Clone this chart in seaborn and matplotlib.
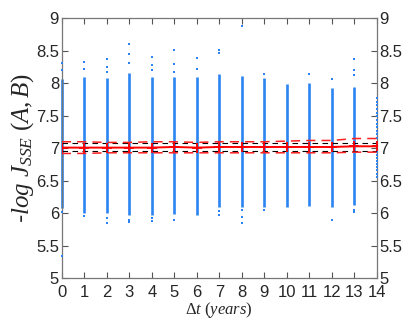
import numpy as np
import pandas as pd
import matplotlib
matplotlib.use('Agg')
import matplotlib.pyplot as plt
import seaborn as sns

#values
dt = list(range(15))
dense_x = list(range(14))
dense_lo = [6.08, 6.00, 6.00, 5.97, 5.97, 5.99, 5.97, 6.09, 6.09, 6.10, 6.10, 6.11, 6.10, 6.13]
dense_hi = [8.07, 8.10, 8.08, 8.16, 8.09, 8.10, 8.09, 8.14, 8.11, 8.08, 7.99, 8.00, 7.93, 7.95]

#scattered points outside the dense strips
out_x = [0, 0, 0, 0, 1, 1, 1, 2, 2, 2, 2, 2, 3, 3, 3, 3, 3, 4, 4, 4, 4, 4,
         5, 5, 5, 5, 6, 6, 7, 7, 7, 7, 8, 8, 8, 8, 9, 9, 11, 12, 12, 13, 13, 13, 13, 13]
out_y = [8.31, 8.2, 6.02, 5.34, 8.33, 8.22, 5.96, 8.37, 8.25, 8.17, 5.93, 5.85, 8.60, 8.45, 8.31, 5.90, 5.86,
         8.41, 8.28, 8.20, 5.93, 5.88, 8.51, 8.30, 8.18, 5.90, 8.39, 8.22, 8.51, 8.46, 6.04, 5.97,
         8.88, 6.05, 5.94, 5.85, 8.15, 6.05, 8.15, 8.06, 5.90, 8.37, 8.20, 8.13, 6.05, 6.02]

#last column is sparse
sparse_y = [7.78, 7.72, 7.66, 7.60, 7.55, 7.50, 7.44, 7.38, 7.33, 7.27, 7.22, 7.16, 7.10, 7.05,
            7.00, 6.95, 6.90, 6.85, 6.80, 6.76, 6.71, 6.66, 6.60, 6.55]

mean_v = [7.01, 7.01, 7.01, 7.01, 7.01, 7.02, 7.01, 7.02, 7.02, 7.02, 7.02, 7.02, 7.02, 7.03, 7.03]
upper_v = [7.10, 7.10, 7.09, 7.09, 7.10, 7.10, 7.09, 7.10, 7.10, 7.10, 7.11, 7.12, 7.12, 7.15, 7.15]
lower_v = [6.92, 6.92, 6.93, 6.93, 6.93, 6.93, 6.93, 6.93, 6.93, 6.93, 6.93, 6.93, 6.93, 6.94, 6.94]
ref_hi = 7.08
ref_lo = 6.96

yticks = [5, 5.5, 6, 6.5, 7, 7.5, 8, 8.5, 9]
ytick_labels = ['5', '5.5', '6', '6.5', '7', '7.5', '8', '8.5', '9']

sns.set_style('ticks')
plt.rcParams['font.family'] = ['Liberation Sans', 'DejaVu Sans']
plt.rcParams['mathtext.fontset'] = 'custom'
plt.rcParams['mathtext.it'] = 'Liberation Serif:italic'
plt.rcParams['mathtext.rm'] = 'Liberation Serif'

blue = '#2b84f2'
fig = plt.figure(figsize=(4.15, 3.23), dpi=100)
ax = fig.add_axes([0.149, 0.139, 0.759, 0.804])

ax.vlines(dense_x, dense_lo, dense_hi, color=blue, lw=1.9, zorder=2, clip_on=False)
pts = pd.DataFrame({'x': out_x + [14] * len(sparse_y), 'y': out_y + sparse_y})
sns.scatterplot(data=pts, x='x', y='y', ax=ax, color=blue, s=2.2, marker='s',
                linewidth=0, zorder=3, clip_on=False)

lines = pd.DataFrame({'dt': dt, 'mean': mean_v, 'up': upper_v, 'lo': lower_v})
ax.axhline(ref_hi, color='black', lw=0.8, ls=(0, (5, 4)), zorder=4)
ax.axhline(ref_lo, color='black', lw=0.8, ls=(0, (5, 4)), zorder=4)
sns.lineplot(data=lines, x='dt', y='up', ax=ax, color='#ff2020', lw=1.1, ls=(0, (6, 4)), zorder=5)
sns.lineplot(data=lines, x='dt', y='lo', ax=ax, color='#ff2020', lw=1.1, ls=(0, (6, 4)), zorder=5)
sns.lineplot(data=lines, x='dt', y='mean', ax=ax, color='#ff0000', lw=1.4, marker='+',
             markersize=7, mew=1.3, mec='#ff0000', zorder=6)

ax.set_xlim(0, 14)
ax.set_ylim(5, 9)
ax.set_xticks(dt)
ax.set_yticks(yticks)
ax.set_yticklabels(ytick_labels)
ax.tick_params(direction='in', length=4, labelsize=12, top=True, right=True,
               labelright=True, color='#555555')
ax.tick_params(axis='x', pad=5)
ax.tick_params(axis='y', pad=2)
for sp in ax.spines.values():
    sp.set_color('#777777')
    sp.set_linewidth(0.9)

ax.set_xlabel(r'$\Delta t\ (years)$', fontsize=12, labelpad=0)
ax.set_ylabel(r'-$log\ J_{SSE}\ (A,B)$', fontsize=18, labelpad=0)

fig.savefig('out.png', dpi=100)
